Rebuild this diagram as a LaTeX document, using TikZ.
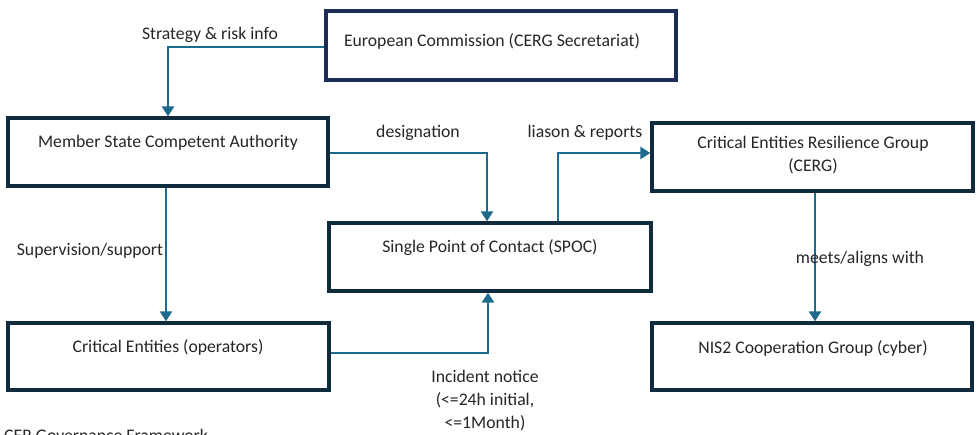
\documentclass[tikz,border=0pt]{standalone}
\usepackage{fontspec}
\setmainfont{Carlito}
\usetikzlibrary{arrows.meta}
\definecolor{boxline}{HTML}{0F2B3D}
\definecolor{ecline}{HTML}{1C2E55}
\definecolor{arrowc}{HTML}{1E6A8E}
\definecolor{txt}{HTML}{262626}
\tikzset{
  box/.style={draw=boxline, line width=3.3pt, fill=white, inner sep=0pt},
  lbl/.style={text=txt, font=\fontsize{17.7}{22.8}\selectfont, align=center, inner sep=0pt},
  conn/.style={draw=arrowc, line width=2.7pt, -{Triangle[width=12pt,length=10pt]}},
}
\begin{document}
\begin{tikzpicture}[x=1pt,y=-1pt]
\clip (0,0) rectangle (980,435);
\useasboundingbox (0,0) rectangle (980,435);
\fill[white] (0,0) rectangle (980,435);
% boxes
\node[box, draw=ecline, minimum width=350pt, minimum height=69pt] (ec) at (501,45.5) {};
\node[box, minimum width=320pt, minimum height=68pt] (msca) at (168,152) {};
\node[box, minimum width=321pt, minimum height=68pt] (cerg) at (812.5,157) {};
\node[box, minimum width=322pt, minimum height=68pt] (spoc) at (490,257) {};
\node[box, minimum width=321pt, minimum height=67pt] (ce) at (168.5,356.5) {};
\node[box, minimum width=320pt, minimum height=67pt] (nis) at (812,356.5) {};
% box texts
\node[lbl] (ect) at (492,41) {European Commission (CERG Secretariat)};
\node[lbl] (mscat) at (168,143) {Member State Competent Authority};
\node[lbl] (cergt) at (813,155) {Critical Entities Resilience Group\\(CERG)};
\node[lbl] (spoct) at (490,248) {Single Point of Contact (SPOC)};
\node[lbl] (cet) at (168,347) {Critical Entities (operators)};
\node[lbl] (nist) at (813,348) {NIS2 Cooperation Group (cyber)};
% connectors
\draw[conn] (ec.west |- 0,47) -| (msca.north -| 168,0);
\draw[conn] (msca.east |- 0,153) -| (spoc.north -| 487,0);
\draw[conn] (spoc.north -| 558,0) |- (cerg.west |- 0,153);
\draw[conn] (msca.south -| 166,0) -- (ce.north -| 166,0);
\draw[conn] (ce.east |- 0,353) -| (spoc.south -| 488,0);
\draw[conn] (cerg.south -| 815,0) -- (nis.north -| 815,0);
% connector labels
\node[lbl] (l1) at (210,35) {Strategy \& risk info};
\node[lbl] (l2) at (418,133) {designation};
\node[lbl] (l3) at (585,133) {liason \& reports};
\node[lbl] (l4) at (90,251) {Supervision/support};
\node[lbl] (l5) at (860,259) {meets/aligns with};
\node[lbl] (l6) at (485,400.5) {Incident notice\\(<=24h initial,\\<=1Month)};
\node[lbl, anchor=base west] (foot) at (4,442) {CER Governance Framework};
\end{tikzpicture}
\end{document}
